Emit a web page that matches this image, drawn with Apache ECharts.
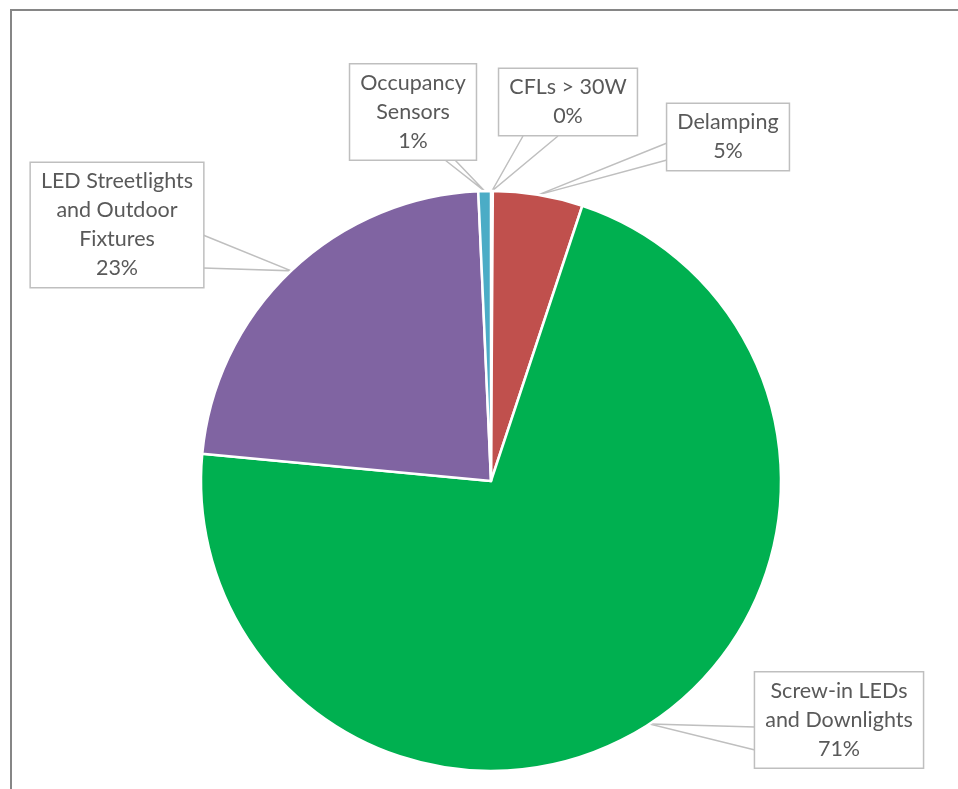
<!DOCTYPE html>
<html>
<head>
<meta charset="utf-8">
<script src="https://cdn.jsdelivr.net/npm/echarts@6/dist/echarts.min.js"></script>
<style>
  html, body { margin: 0; padding: 0; background: #fff; }
  #chart { width: 958px; height: 789px; }
</style>
</head>
<body>
<div id="chart"></div>
<script>
// data (share of savings, %)
const categories = [
  "CFLs > 30W",
  "Delamping",
  "Screw-in LEDs\nand Downlights",
  "LED Streetlights\nand Outdoor\nFixtures",
  "Occupancy\nSensors",
];
const values = [0.1, 5.0, 71.4, 22.8, 0.7];
const colors = ["#4F81BD", "#C0504D", "#00B050", "#8064A2", "#4BACC6"];

// callout boxes: centre of the box and the two points where the wedge leaves it
const callouts = [
  { pos: [568, 102], wedge: [[523, 136], [558, 136]] },
  { pos: [728, 137], wedge: [[667, 143], [667, 160]] },
  { pos: [839, 720], wedge: [[755, 727], [755, 750]] },
  { pos: [117, 225], wedge: [[203, 235], [203, 268]] },
  { pos: [413, 112], wedge: [[445, 160], [455, 160]] },
];

const chart = echarts.init(document.getElementById("chart"));

const option = {
  animation: false,
  graphic: [
    {
      type: "rect",
      shape: { x: 11, y: 10, width: 1000, height: 1000 },
      style: { fill: null, stroke: "#868686", lineWidth: 2 },
      silent: true,
    },
  ],
  series: [
    {
      type: "pie",
      center: [491, 481],
      radius: 290,
      startAngle: 90,
      clockwise: true,
      percentPrecision: 0,
      avoidLabelOverlap: false,
      data: categories.map(function (name, i) {
        return { name: name, value: values[i], itemStyle: { color: colors[i] } };
      }),
      itemStyle: {
        borderColor: "#ffffff",
        borderWidth: 2.5,
      },
      emphasis: { disabled: true },
      label: {
        show: true,
        position: "outside",
        formatter: "{b}\n{d}%",
        fontFamily: "Lato",
        fontSize: 21.5,
        lineHeight: 29,
        color: "#595959",
        align: "center",
        backgroundColor: "#ffffff",
        borderColor: "#BFBFBF",
        borderWidth: 1.5,
        padding: [4, 10, 4, 10],
      },
      labelLine: {
        show: true,
        lineStyle: { color: "#BFBFBF", width: 1.5 },
      },
      labelLayout: function (params) {
        const c = callouts[params.dataIndex];
        const pts = params.labelLinePoints;
        const anchor = pts ? pts[0] : c.wedge[0];
        return {
          x: c.pos[0],
          y: c.pos[1],
          align: "center",
          verticalAlign: "middle",
          labelLinePoints: [c.wedge[0], anchor, c.wedge[1]],
        };
      },
    },
  ],
};

chart.setOption(option);
</script>
</body>
</html>
